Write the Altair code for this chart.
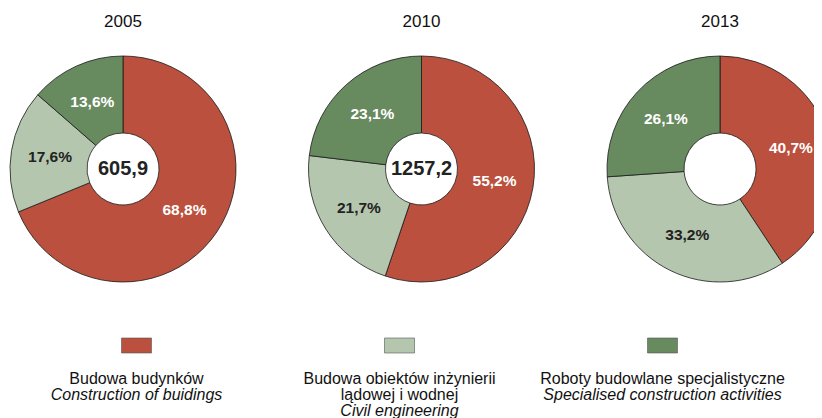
import altair as alt
import pandas as pd

years = ["2005", "2010", "2013"]
totals = ["605,9", "1257,2", ""]
cat_pl = ["Budowa budynków", "Budowa obiektów inżynierii\nlądowej i wodnej", "Roboty budowlane specjalistyczne"]
cat_en = ["Construction of buidings", "Civil engineering", "Specialised construction activities"]
share_2005 = [68.8, 17.6, 13.6]
share_2010 = [55.2, 21.7, 23.1]
share_2013 = [40.7, 33.2, 26.1]
colors = ["#BA503D", "#B5C6AF", "#678A5F"]

FONT = "Liberation Sans, Arial, sans-serif"

rows = []
for yi, (yr, shares) in enumerate(zip(years, [share_2005, share_2010, share_2013])):
    for ci, s in enumerate(shares):
        rows.append({"year": yr, "yi": yi, "cat": ci, "share": s})
df = pd.DataFrame(rows)

df_years = pd.DataFrame({"year": years, "yi": list(range(len(years))), "total": totals})

df_leg = pd.DataFrame({
    "cat": list(range(len(cat_pl))),
    "pl": cat_pl,
    "en": cat_en,
    "nl": [p.count("\n") + 1 for p in cat_pl],
})

X = alt.X("yi:Q", scale=alt.Scale(domain=[0, 2], range=[115, 712]), axis=None, stack=None)
XL = alt.X("cat:Q", scale=alt.Scale(domain=[0, 2], range=[128.5, 654.5]), axis=None, stack=None)
theta_scale = alt.Scale(domain=[0, 100], range=[0, 6.283185307])
color_scale = alt.Scale(domain=[0, 1, 2], range=colors)

base = alt.Chart(df).transform_window(
    t1="sum(share)", groupby=["year"], sort=[alt.SortField("cat", order="ascending")],
    frame=[None, 0]
).transform_calculate(
    t0="datum.t1 - datum.share"
)

arcs = base.mark_arc(innerRadius=36, outerRadius=113, stroke="#1a1a1a", strokeWidth=0.8).encode(
    x=X,
    y=alt.value(161),
    theta=alt.Theta("t0:Q", scale=theta_scale, stack=None),
    theta2="t1:Q",
    color=alt.Color("cat:N", scale=color_scale, legend=None),
)

labels = base.transform_calculate(
    mid="(datum.t0 + datum.t1) / 2",
    lbl="replace(format(datum.share, '.1f'), '.', ',') + '%'",
).mark_text(radius=74, font=FONT, fontSize=15.5, fontWeight="bold", baseline="middle", align="center").encode(
    x=X,
    y=alt.value(161),
    theta=alt.Theta("mid:Q", scale=theta_scale, stack=None),
    text="lbl:N",
    color=alt.condition("datum.cat == 1", alt.value("#222222"), alt.value("#FFFFFF")),
)

centers = alt.Chart(df_years).mark_text(font=FONT, fontSize=20, fontWeight="bold", color="#222222",
                                         baseline="middle", align="center").encode(
    x=X, y=alt.value(161), text="total:N"
)

titles = alt.Chart(df_years).mark_text(font=FONT, fontSize=17, color="#111111",
                                        baseline="middle", align="center").encode(
    x=X, y=alt.value(14), text="year:N"
)

leg_boxes = alt.Chart(df_leg).mark_point(
    shape="M-1,-0.5L1,-0.5L1,0.5L-1,0.5Z", size=900, filled=True, opacity=1,
    stroke="#555555", strokeWidth=0.6
).encode(
    x=XL, y=alt.value(337.5),
    color=alt.Color("cat:N", scale=color_scale, legend=None),
)

leg_pl = alt.Chart(df_leg).mark_text(font=FONT, fontSize=16, lineBreak="\n", lineHeight=16,
                                      baseline="alphabetic", align="center", color="#111111").encode(
    x=XL, y=alt.value(376), text="pl:N"
)

leg_en = alt.Chart(df_leg).mark_text(font=FONT, fontSize=16, fontStyle="italic",
                                      baseline="alphabetic", align="center", color="#111111").encode(
    x=XL,
    y=alt.Y("nl:Q", scale=alt.Scale(domain=[1, 2], range=[392, 408]), axis=None),
    text="en:N"
)

chart = alt.layer(arcs, labels, centers, titles, leg_boxes, leg_pl, leg_en).resolve_scale(
    x="independent", y="independent"
).properties(
    width=806, height=410, autosize="none", padding=0, background="white"
).configure_view(stroke=None)

chart.save("out.html", embed_options={"renderer": "svg", "actions": False})
